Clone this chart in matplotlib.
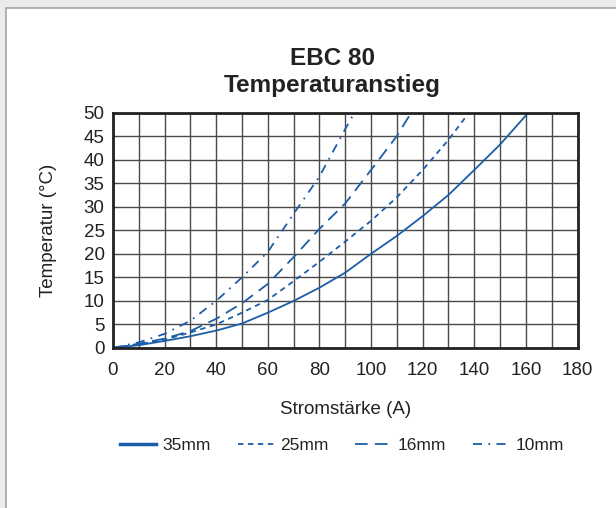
import numpy as np
import matplotlib.pyplot as plt
from matplotlib.patches import Rectangle

plt.rcParams['font.family'] = ['Liberation Sans', 'DejaVu Sans']

a35 = [0, 10, 20, 30, 40, 50, 60, 70, 80, 90, 100, 110, 120, 130, 140, 150, 161]
t35 = [0, 0.6, 1.5, 2.5, 3.7, 5.2, 7.5, 10, 12.8, 16, 20, 23.8, 28, 32.5, 37.8, 43.2, 50]

a25 = [0, 10, 20, 30, 40, 50, 60, 70, 80, 90, 100, 110, 120, 130, 138]
t25 = [0, 0.8, 1.8, 3.3, 5, 7.5, 10.2, 14.2, 18.3, 22.6, 27, 32, 37.8, 44.2, 50]

a16 = [0, 10, 20, 30, 40, 50, 60, 70, 80, 90, 100, 110, 115.6]
t16 = [0, 0.9, 2, 3.6, 6.2, 9.5, 13.6, 19.3, 25.3, 30.7, 37.8, 45, 50]

a10 = [0, 10, 20, 30, 40, 50, 60, 70, 80, 90, 93.6]
t10 = [0, 1.2, 3, 5.8, 10, 15, 20.4, 28.5, 36.4, 46.5, 50]

labels = ['35mm', '25mm', '16mm', '10mm']
blue = '#1a5ea8'
ink = '#222222'

fig = plt.figure(figsize=(6.16, 5.08), dpi=100)
fig.patch.set_facecolor('#ebebeb')
card = Rectangle((6 / 616, -0.01), 1.0, 1 - 8 / 508 + 0.01,
                 transform=fig.transFigure, facecolor='white',
                 edgecolor='#a5a5a5', linewidth=1.2, zorder=-5)
fig.add_artist(card)

ax = fig.add_axes([113 / 616, 1 - 348 / 508, 464.5 / 616, 235.5 / 508])
ax.set_zorder(2)
ax.set_facecolor('white')
ax.set_xlim(0, 180)
ax.set_ylim(0, 50)
ax.set_xticks(np.arange(0, 181, 20))
ax.set_yticks(np.arange(0, 51, 5))
ax.set_xticks(np.arange(0, 181, 10), minor=True)
ax.grid(True, which='both', color='#4a4a4a', linewidth=1.0)
ax.tick_params(which='both', length=0, labelsize=13.5, colors=ink)
ax.tick_params(axis='x', pad=10)
ax.tick_params(axis='y', pad=6)
for s in ax.spines.values():
    s.set_linewidth(2)
    s.set_color(ink)

ax.plot(a35, t35, color=blue, lw=1.3, label=labels[0])
ax.plot(a25, t25, color=blue, lw=1.3, dashes=(3, 2.5), label=labels[1])
ax.plot(a16, t16, color=blue, lw=1.3, dashes=(7, 4), label=labels[2])
ax.plot(a10, t10, color=blue, lw=1.3, dashes=(5, 3.5, 1, 3.5), label=labels[3])

ax.set_xlabel('Stromstärke (A)', fontsize=13.5, color=ink, labelpad=16)
ax.set_ylabel('Temperatur (°C)', fontsize=13.5, color=ink, labelpad=19)

fig.text(332 / 616, 1 - 72 / 508, 'EBC 80\nTemperaturanstieg', ha='center',
         va='center', fontsize=17.5, fontweight='bold', color=ink,
         linespacing=1.2)

leg = fig.legend(loc='center', bbox_to_anchor=(342 / 616, 1 - 445 / 508), ncol=4,
                 frameon=False, fontsize=12.5, handlelength=2.1, columnspacing=1.55,
                 handletextpad=0.35)
for t in leg.get_texts():
    t.set_color(ink)
leg.get_lines()[0].set_linewidth(2.5)

fig.savefig('out.png', dpi=100, facecolor=fig.get_facecolor())
